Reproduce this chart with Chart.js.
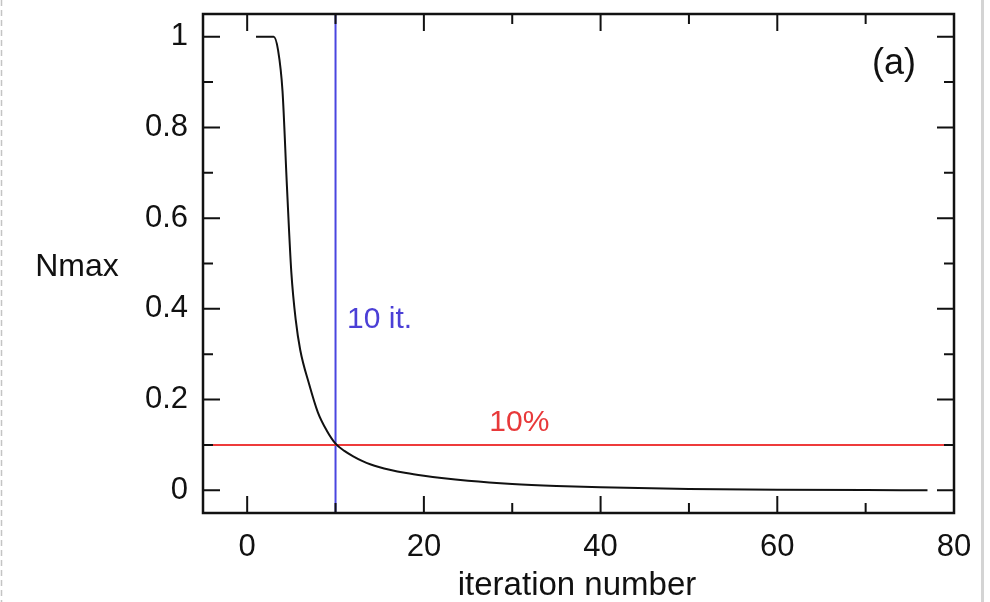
<!DOCTYPE html>
<html>
<head>
<meta charset="utf-8">
<script src="https://cdn.jsdelivr.net/npm/chart.js@4.4.1/dist/chart.umd.min.js"></script>
<style>
  html, body { margin: 0; padding: 0; background: #fff; overflow: hidden; }
  #wrap { position: relative; width: 990px; height: 602px; }
</style>
</head>
<body>
<div id="wrap"><canvas id="nmaxChart" width="990" height="602"></canvas></div>
<script>
// iteration curve
const iterations = [1, 2, 3, 3.5, 4, 4.5, 5, 5.5, 6, 7, 8, 9, 10, 11, 12, 13, 14, 15, 16, 18, 20, 22, 25, 30, 35, 40, 50, 60, 70, 77];
const nmax = [1, 1, 1, 0.97, 0.88, 0.67, 0.48, 0.375, 0.31, 0.235, 0.172, 0.132, 0.103, 0.087, 0.075, 0.065, 0.057, 0.051, 0.046, 0.038, 0.032, 0.027, 0.021, 0.014, 0.0095, 0.0065, 0.003, 0.0013, 0.0005, 0.0002];

// reference lines
const thresholdLevel = 0.1;   // 10%
const thresholdIter = 10;     // 10 it.

// axes
const xRange = [-5, 80];
const yRange = [-0.05, 1.05];
const xMajor = [0, 20, 40, 60, 80];
const xMinor = [10, 30, 50, 70];
const xTickLabels = ['0', '20', '40', '60', '80'];
const yMajor = [0, 0.2, 0.4, 0.6, 0.8, 1];
const yMinor = [0.1, 0.3, 0.5, 0.7, 0.9];
const yTickLabels = ['0', '0.2', '0.4', '0.6', '0.8', '1'];

// text annotations in data units
const notes = [
  { text: '10 it.', x: 11.3, y: 0.375, color: '#4b3fd6', align: 'left' },
  { text: '10%', x: 30.8, y: 0.15, color: '#e8393a', align: 'center' },
  { text: '(a)', x: 73.2, y: 0.94, color: '#111', align: 'center', size: 36 }
];

const FONT = "'Liberation Sans', Arial, Helvetica, sans-serif";

const framePlugin = {
  id: 'frame',
  beforeDraw(chart) {
    const ctx = chart.ctx;
    ctx.save();
    // page edges from the original screenshot
    ctx.strokeStyle = '#c4c4c4';
    ctx.lineWidth = 1.5;
    ctx.setLineDash([6, 4]);
    ctx.beginPath();
    ctx.moveTo(1.5, 0);
    ctx.lineTo(1.5, 602);
    ctx.stroke();
    ctx.setLineDash([]);
    ctx.strokeStyle = '#d4d4d4';
    ctx.lineWidth = 3;
    ctx.beginPath();
    ctx.moveTo(982.5, 0);
    ctx.lineTo(982.5, 602);
    ctx.stroke();
    ctx.restore();
  },
  afterDatasetsDraw(chart) {
    const ctx = chart.ctx;
    const a = chart.chartArea;
    const xs = chart.scales.x;
    const ys = chart.scales.y;
    ctx.save();

    // inward tick marks on all four sides
    ctx.strokeStyle = '#111';
    ctx.lineWidth = 2;
    const major = 17, minor = 10;
    const drawX = (vals, len) => vals.forEach(v => {
      const px = xs.getPixelForValue(v);
      ctx.beginPath();
      ctx.moveTo(px, a.bottom); ctx.lineTo(px, a.bottom - len);
      ctx.moveTo(px, a.top); ctx.lineTo(px, a.top + len);
      ctx.stroke();
    });
    const drawY = (vals, len) => vals.forEach(v => {
      const py = ys.getPixelForValue(v);
      ctx.beginPath();
      ctx.moveTo(a.left, py); ctx.lineTo(a.left + len, py);
      ctx.moveTo(a.right, py); ctx.lineTo(a.right - len, py);
      ctx.stroke();
    });
    drawX(xMajor, major); drawX(xMinor, minor);
    drawY(yMajor, major); drawY(yMinor, minor);

    // plot box
    ctx.lineWidth = 2.5;
    ctx.strokeRect(a.left, a.top, a.right - a.left, a.bottom - a.top);

    // annotations
    ctx.textBaseline = 'middle';
    notes.forEach(n => {
      ctx.font = (n.size || 30) + 'px ' + FONT;
      ctx.fillStyle = n.color;
      ctx.textAlign = n.align;
      ctx.fillText(n.text, xs.getPixelForValue(n.x), ys.getPixelForValue(n.y));
    });

    // axis titles
    ctx.fillStyle = '#111';
    ctx.font = '32px ' + FONT;
    ctx.textAlign = 'center';
    ctx.fillText('Nmax', 77, 267);
    ctx.font = '33px ' + FONT;
    ctx.fillText('iteration number', 577, 586);
    ctx.restore();
  }
};

const ctx = document.getElementById('nmaxChart').getContext('2d');
new Chart(ctx, {
  type: 'line',
  data: {
    datasets: [
      {
        label: 'Nmax',
        data: iterations.map((x, i) => ({ x: x, y: nmax[i] })),
        borderColor: '#111',
        borderWidth: 2,
        pointRadius: 0,
        cubicInterpolationMode: 'monotone',
        fill: false
      },
      {
        label: '10%',
        data: [{ x: xRange[0], y: thresholdLevel }, { x: xRange[1], y: thresholdLevel }],
        borderColor: '#ee3b3b',
        borderWidth: 2,
        pointRadius: 0
      },
      {
        label: '10 it.',
        data: [{ x: thresholdIter, y: yRange[0] }, { x: thresholdIter, y: yRange[1] }],
        borderColor: '#4a46e0',
        borderWidth: 2,
        pointRadius: 0
      }
    ]
  },
  options: {
    responsive: false,
    animation: false,
    devicePixelRatio: 1,
    layout: { padding: { top: 14, right: 36, left: 0, bottom: 0 } },
    plugins: {
      legend: { display: false },
      tooltip: { enabled: false }
    },
    scales: {
      x: {
        type: 'linear',
        min: xRange[0],
        max: xRange[1],
        grid: { display: false, drawTicks: false },
        border: { display: false },
        afterBuildTicks: scale => { scale.ticks = xMajor.map(v => ({ value: v })); },
        afterFit: scale => {
          scale.height = 89;
          scale.paddingLeft = 0; scale.paddingRight = 0;
        },
        ticks: {
          color: '#111',
          padding: 16,
          maxRotation: 0,
          autoSkip: false,
          font: { family: FONT, size: 31 },
          callback: (value, index) => xTickLabels[index]
        }
      },
      y: {
        type: 'linear',
        min: yRange[0],
        max: yRange[1],
        grid: { display: false, drawTicks: false },
        border: { display: false },
        afterBuildTicks: scale => { scale.ticks = yMajor.map(v => ({ value: v })); },
        afterFit: scale => {
          scale.width = 203;
          scale.paddingTop = 0; scale.paddingBottom = 0;
        },
        ticks: {
          color: '#111',
          padding: 15,
          autoSkip: false,
          font: { family: FONT, size: 31 },
          callback: (value, index) => yTickLabels[index]
        }
      }
    }
  },
  plugins: [framePlugin]
});
</script>
</body>
</html>
